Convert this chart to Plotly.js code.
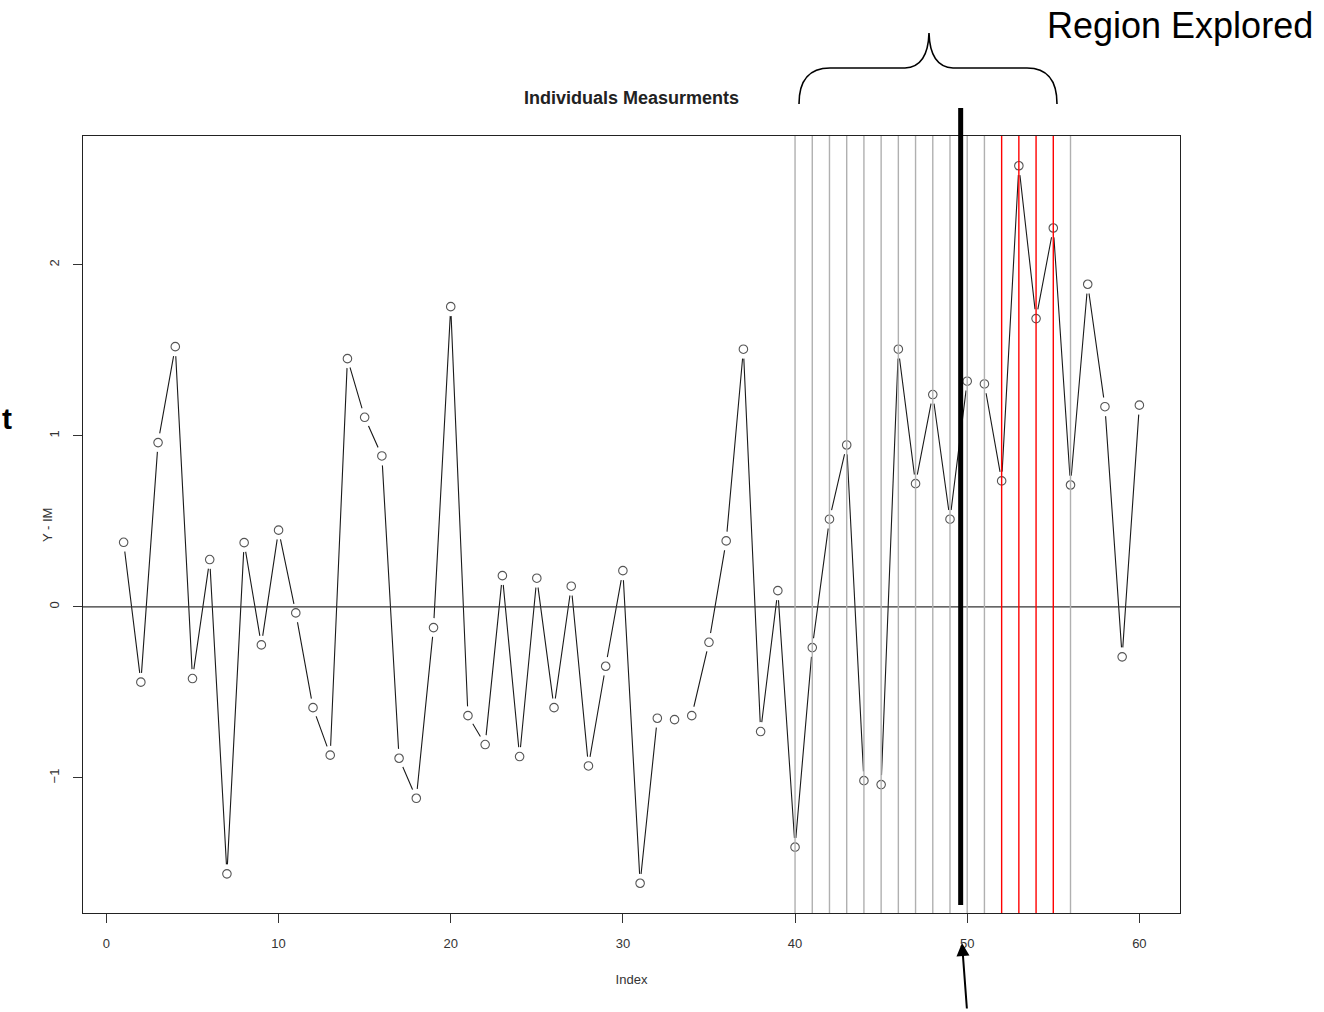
<!DOCTYPE html>
<html>
<head>
<meta charset="utf-8">
<script src="https://cdn.plot.ly/plotly-3.0.1.min.js"></script>
<style>html,body{margin:0;padding:0;background:#fff;}#chart{width:1324px;height:1012px;}</style>
</head>
<body>
<div id="chart"></div>
<script>
// ---- data ----
const indexVals = [1,2,3,4,5,6,7,8,9,10,11,12,13,14,15,16,17,18,19,20,
  21,22,23,24,25,26,27,28,29,30,31,32,33,34,35,36,37,38,39,40,
  41,42,43,44,45,46,47,48,49,50,51,52,53,54,55,56,57,58,59,60];
const yIM = [0.378,-0.44,0.961,1.522,-0.419,0.277,-1.561,0.376,-0.222,0.449,
  -0.035,-0.589,-0.867,1.452,1.109,0.883,-0.885,-1.119,-0.121,1.756,
  -0.636,-0.805,0.183,-0.875,0.168,-0.589,0.121,-0.93,-0.347,0.212,
  -1.616,-0.651,-0.659,-0.636,-0.207,0.386,1.507,-0.729,0.095,-1.405,
  -0.238,0.513,0.947,-1.016,-1.039,1.507,0.721,1.242,0.513,1.32,
  1.304,0.737,2.58,1.686,2.216,0.713,1.887,1.171,-0.292,1.18];
const grayLines = [40,41,42,43,44,45,46,47,48,49,50,51,56];
const redLines = [52,53,54,55];
const changePoint = [49.62];
const xTicks = [0,10,20,30,40,50,60];
const yTicks = [-1,0,1,2];

// ---- layout geometry (pixels) ----
const W = 1324, H = 1012;
const M = {l:83, r:144, t:136, b:99};
const PW = W - M.l - M.r, PH = H - M.t - M.b;
const px = x => (x - M.l) / PW;
const py = y => (H - M.b - y) / PH;

const traces = [
  {x:indexVals, y:yIM, mode:'lines', line:{color:'#1a1a1a', width:1.1}, hoverinfo:'skip', showlegend:false},
  {x:indexVals, y:yIM, mode:'markers', marker:{symbol:'circle', size:19, color:'#ffffff', line:{width:0}}, hoverinfo:'skip', showlegend:false},
  {x:indexVals, y:yIM, mode:'markers', marker:{symbol:'circle-open', size:8.5, color:'#555555', line:{width:1.1, color:'#555555'}}, showlegend:false}
];

const shapes = [];
shapes.push({type:'line', xref:'paper', yref:'y', x0:0, x1:1, y0:0, y1:0, line:{color:'#333333', width:1.4}, layer:'above'});
grayLines.forEach(v => shapes.push({type:'line', xref:'x', yref:'paper', x0:v, x1:v, y0:0, y1:1, line:{color:'#b0b0b0', width:1.4}, layer:'above'}));
redLines.forEach(v => shapes.push({type:'line', xref:'x', yref:'paper', x0:v, x1:v, y0:0, y1:1, line:{color:'#ff0000', width:1.4}, layer:'above'}));
changePoint.forEach(v => shapes.push({type:'line', xref:'x', yref:'paper', x0:v, x1:v, y0:py(108), y1:py(905), line:{color:'#000000', width:5}, layer:'above'}));

// curly brace above the explored region
const P = (x,y) => px(x).toFixed(5) + ',' + py(y).toFixed(5);
const bracePath = 'M' + P(799,104) + ' Q' + P(799,68) + ' ' + P(830,68) +
  ' L' + P(905,68) + ' Q' + P(928,67) + ' ' + P(929,33) +
  ' Q' + P(930,67) + ' ' + P(953,68) + ' L' + P(1027,68) +
  ' Q' + P(1057,68) + ' ' + P(1057,104);
shapes.push({type:'path', xref:'paper', yref:'paper', path:bracePath, line:{color:'#000000', width:1.6}});

const annotations = [
  {text:'Region Explored', xref:'paper', yref:'paper', x:px(1180), y:py(26), xanchor:'center', yanchor:'middle', showarrow:false,
   font:{family:'Liberation Sans, Arial, sans-serif', size:36, color:'#000'}},
  {text:'<b>t</b>', xref:'paper', yref:'paper', x:px(14), y:py(418), xanchor:'right', yanchor:'middle', showarrow:false,
   font:{family:'Liberation Sans, Arial, sans-serif', size:30, color:'#000'}},
  {text:'Y - IM', xref:'paper', yref:'paper', x:px(47), y:py(525), xanchor:'center', yanchor:'middle', textangle:-90, showarrow:false,
   font:{family:'Liberation Sans, Arial, sans-serif', size:13, color:'#333'}},
  {text:'', xref:'paper', yref:'paper', x:px(962), y:py(943), showarrow:true, ax:5, ay:67,
   arrowhead:2, arrowsize:1.3, arrowwidth:2, arrowcolor:'#000'}
];

const layout = {
  width:W, height:H,
  margin:{l:M.l, r:M.r, t:M.t, b:M.b, pad:0},
  paper_bgcolor:'#ffffff', plot_bgcolor:'#ffffff',
  font:{family:'Liberation Sans, Arial, sans-serif', color:'#333333', size:13},
  title:{text:'<b>Individuals Measurments</b>', x:px(631.5), xref:'paper', xanchor:'center',
    y:1 - 98/H, yref:'container', yanchor:'middle', font:{size:18, color:'#222222'}},
  xaxis:{range:[-1.36, 62.36], tickvals:xTicks, ticks:'outside', ticklen:9, tickcolor:'#333', tickwidth:1,
    showgrid:false, zeroline:false, showline:true, mirror:true, linecolor:'#222', linewidth:1.3,
    ticklabelstandoff:9, tickfont:{size:13, color:'#333'},
    title:{text:'Index', standoff:25, font:{size:13, color:'#333'}}},
  yaxis:{range:[-1.79, 2.754], tickvals:yTicks, ticks:'outside', ticklen:9, tickcolor:'#333', tickwidth:1,
    tickangle:-90, showgrid:false, zeroline:false, showline:true, mirror:true, linecolor:'#222', linewidth:1.3,
    ticklabelstandoff:9, tickfont:{size:13, color:'#333'}},
  shapes:shapes, annotations:annotations, showlegend:false
};

Plotly.newPlot('chart', traces, layout, {displayModeBar:false, staticPlot:true});
</script>
</body>
</html>
